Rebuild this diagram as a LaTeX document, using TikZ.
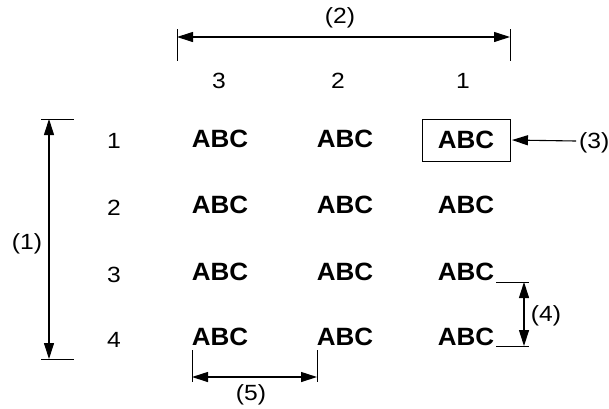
\documentclass[tikz,border=0pt]{standalone}
\usepackage{fontspec}
\setmainfont{Liberation Sans}
\newfontfamily\lblfont[FakeStretch=1.12]{Liberation Sans}
\newfontfamily\abcfont[FakeStretch=1.04]{Liberation Sans}
\usetikzlibrary{arrows.meta}
\begin{document}
\begin{tikzpicture}[x=1pt,y=-1pt,
  abc/.style={font=\abcfont\fontsize{25}{25}\selectfont\bfseries, inner sep=0pt},
  num/.style={font=\lblfont\fontsize{22}{22}\selectfont, inner sep=0pt, anchor=base},
  dimline/.style={line width=1.1pt, {Triangle[length=16pt,width=10pt]}-{Triangle[length=16pt,width=10pt]}},
  oneway/.style={line width=1.1pt, -{Triangle[length=16pt,width=10pt]}},
  tickline/.style={line width=0.9pt}]
\useasboundingbox (0,0) rectangle (609,408);
% column labels
\node[num] (c3) at (219,88) {3};
\node[num] (c2) at (338,88) {2};
\node[num] (c1) at (463,88) {1};
% row labels
\node[num] (r1) at (114,148) {1};
\node[num] (r2) at (114,215) {2};
\node[num] (r3) at (114,282) {3};
\node[num] (r4) at (114,347) {4};
% ABC grid
\node[abc] (a13) at (220,139) {ABC};
\node[abc] (a12) at (345,139) {ABC};
\node[abc, draw, line width=0.9pt, minimum width=88pt, minimum height=42pt] (a11) at (466,140) {ABC};
\node[abc] (a23) at (220,205) {ABC};
\node[abc] (a22) at (345,205) {ABC};
\node[abc] (a21) at (466,205) {ABC};
\node[abc] (a33) at (220,272) {ABC};
\node[abc] (a32) at (345,272) {ABC};
\node[abc] (a31) at (466,272) {ABC};
\node[abc] (a43) at (220,337) {ABC};
\node[abc] (a42) at (345,337) {ABC};
\node[abc] (a41) at (466,337) {ABC};
% (2)
\coordinate (t2a) at (177,29); \coordinate (t2b) at (177,61);
\coordinate (t2c) at (510,29); \coordinate (t2d) at (510,61);
\draw[tickline] (t2a) -- (t2b);
\draw[tickline] (t2c) -- (t2d);
\coordinate (d2a) at (177,37); \coordinate (d2b) at (510,37);
\draw[dimline] (d2a) -- (d2b);
\node[num] (l2) at (340,23) {(2)};
% (1)
\coordinate (t1a) at (41,119); \coordinate (t1b) at (74,119);
\coordinate (t1c) at (41,359); \coordinate (t1d) at (74,359);
\draw[tickline] (t1a) -- (t1b);
\draw[tickline] (t1c) -- (t1d);
\coordinate (d1a) at (49,119); \coordinate (d1b) at (49,359);
\draw[dimline] (d1a) -- (d1b);
\node[num] (l1) at (27,249) {(1)};
% (3)
\node[num, anchor=base west] (l3) at (579,148) {(3)};
\coordinate (s3) at (576,141);
\draw[oneway, shorten >=1.5pt] (s3) -- (a11.east);
% (4)
\coordinate (t4a) at (496,282); \coordinate (t4b) at (529,282);
\coordinate (t4c) at (496,346); \coordinate (t4d) at (529,346);
\draw[tickline] (t4a) -- (t4b);
\draw[tickline] (t4c) -- (t4d);
\coordinate (d4a) at (524,282); \coordinate (d4b) at (524,346);
\draw[dimline] (d4a) -- (d4b);
\node[num] (l4) at (546,321) {(4)};
% (5)
\coordinate (t5a) at (192,350); \coordinate (t5b) at (192,382);
\coordinate (t5c) at (317,350); \coordinate (t5d) at (317,382);
\draw[tickline] (t5a) -- (t5b);
\draw[tickline] (t5c) -- (t5d);
\coordinate (d5a) at (192,377); \coordinate (d5b) at (317,377);
\draw[dimline] (d5a) -- (d5b);
\node[num] (l5) at (251,400) {(5)};
\end{tikzpicture}
\end{document}
